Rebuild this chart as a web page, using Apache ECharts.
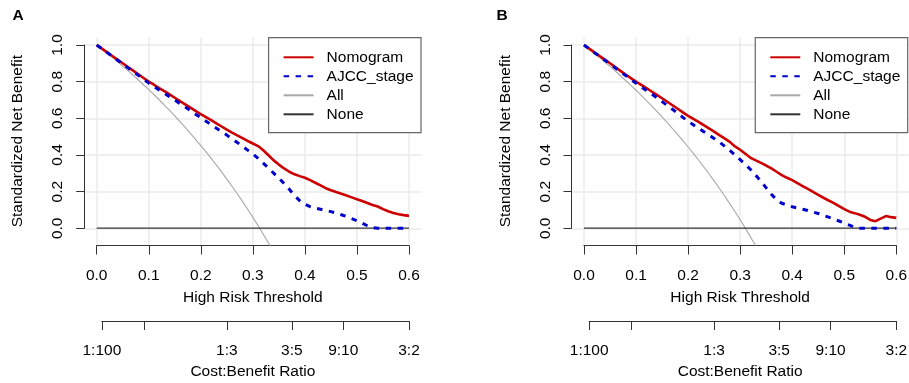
<!DOCTYPE html>
<html><head><meta charset="utf-8">
<script src="https://cdn.jsdelivr.net/npm/echarts@6/dist/echarts.min.js"></script>
<style>html,body{margin:0;padding:0;background:#fff}#c{width:909px;height:383px}</style>
</head><body><div id="c"></div>
<script>
// ---------- data ----------
const thresholds = [0.00,0.01,0.02,0.03,0.04,0.05,0.06,0.07,0.08,0.09,0.10,0.11,0.12,0.13,0.14,0.15,0.16,0.17,0.18,0.19,0.20,
  0.21,0.22,0.23,0.24,0.25,0.26,0.27,0.28,0.29,0.30,0.31,0.32,0.33,0.34,0.35,0.36,0.37,0.38,0.39,0.40,
  0.41,0.42,0.43,0.44,0.45,0.46,0.47,0.48,0.49,0.50,0.51,0.52,0.53,0.54,0.55,0.56,0.57,0.58,0.59,0.60];

const nomogramA = [1.000,0.980,0.960,0.940,0.920,0.900,0.880,0.860,0.840,0.820,0.800,0.783,0.765,0.748,0.730,0.712,0.694,0.676,0.658,0.640,0.622,
  0.606,0.590,0.572,0.555,0.538,0.522,0.507,0.492,0.476,0.462,0.448,0.425,0.398,0.370,0.347,0.326,0.308,0.294,0.284,0.275,
  0.262,0.248,0.233,0.218,0.207,0.197,0.188,0.178,0.168,0.158,0.148,0.137,0.126,0.118,0.104,0.092,0.083,0.076,0.071,0.067];
const ajccA = [1.000,0.980,0.959,0.938,0.917,0.896,0.875,0.854,0.834,0.813,0.792,0.773,0.755,0.737,0.718,0.699,0.680,0.661,0.642,0.622,0.603,
  0.584,0.565,0.546,0.527,0.508,0.488,0.468,0.447,0.426,0.405,0.381,0.355,0.328,0.300,0.273,0.243,0.212,0.178,0.150,0.130,
  0.117,0.109,0.103,0.097,0.090,0.082,0.073,0.064,0.052,0.040,0.027,0.013,0.003,0,0,0,0,0,0,0];
const allA = [1.000,0.978,0.955,0.932,0.909,0.884,0.860,0.835,0.809,0.783,0.756,0.729,0.701,0.672,0.643,0.613,0.582,0.550,0.518,0.485,0.451,
  0.416,0.381,0.344,0.307,0.268,0.229,0.188,0.146,0.103,0.059,0.014,-0.033,-0.081,-0.131];

const nomogramB = [1.000,0.980,0.960,0.940,0.920,0.900,0.879,0.859,0.839,0.819,0.800,0.782,0.764,0.746,0.728,0.709,0.690,0.671,0.652,0.632,0.613,
  0.596,0.580,0.562,0.545,0.527,0.508,0.490,0.471,0.446,0.428,0.406,0.384,0.370,0.356,0.342,0.326,0.308,0.290,0.275,0.262,
  0.246,0.230,0.214,0.198,0.182,0.166,0.151,0.137,0.120,0.104,0.090,0.082,0.073,0.062,0.045,0.038,0.052,0.066,0.060,0.056];
const ajccB = [1.000,0.979,0.958,0.938,0.917,0.896,0.875,0.854,0.833,0.812,0.791,0.771,0.752,0.732,0.712,0.691,0.670,0.649,0.628,0.605,0.584,
  0.564,0.545,0.527,0.508,0.490,0.470,0.448,0.425,0.400,0.374,0.348,0.320,0.289,0.255,0.220,0.185,0.155,0.136,0.126,0.117,
  0.110,0.103,0.096,0.088,0.080,0.070,0.060,0.050,0.039,0.027,0.016,0.005,0,0,0,0,0,0,0,0];
const allB = [1.000,0.977,0.955,0.931,0.907,0.883,0.858,0.832,0.806,0.780,0.753,0.725,0.696,0.667,0.638,0.607,0.576,0.544,0.511,0.478,0.443,
  0.408,0.372,0.335,0.297,0.258,0.218,0.177,0.134,0.091,0.046,0.000,-0.048,-0.097,-0.147];

const noneThresholds = [0, 0.6];
const noneValues = [0, 0];

const seriesNames = ['Nomogram', 'AJCC_stage', 'All', 'None'];
const panelLabels = ['A', 'B'];
const xTickLabels = ['0.0','0.1','0.2','0.3','0.4','0.5','0.6'];
const yTickLabels = ['0.0','0.2','0.4','0.6','0.8','1.0'];
const cbLabels = ['1:100','1:10','1:3','3:5','9:10','3:2'];
const cbShowLabel = [true, false, true, true, true, true];

// ---------- layout ----------
const FONT = '"Liberation Sans", Arial, Helvetica, sans-serif';
const FS = 15.5;
const AX = '#333';
const GRIDC = '#ebebeb';
const cbPos = cbLabels.map(s => { const [a, b] = s.split(':').map(Number); return a / (a + b); });
const cbMin = cbPos[0];

const panelsData = [
  { nom: nomogramA, ajcc: ajccA, all: allA, dx: 0, titleLeft: 12.5, legendRight: 488 },
  { nom: nomogramB, ajcc: ajccB, all: allB, dx: 487.3, titleLeft: 496.5, legendRight: 1.3 }
];

const P = { left: 84.2, top: 37.3, w: 337.3, h: 207.7, x0: 96.7, xw: 312.3, yTop: 45, yh: 183.3 };

const grid = [], xAxis = [], yAxis = [], series = [], legend = [], title = [];
const pair = (xs, ys) => xs.slice(0, ys.length).map((t, i) => [t, ys[i]]);
const txt = { fontFamily: FONT, fontSize: FS, color: '#000' };

panelsData.forEach((pd, p) => {
  const b = p * 4, dx = pd.dx;
  const cbLeft = P.x0 + dx + cbMin / 0.6 * P.xw;
  grid.push(
    { left: P.left + dx, top: P.top, width: P.w, height: P.h, containLabel: false, outerBoundsMode: 'none' },
    { left: P.x0 + dx, top: P.top, width: P.xw, height: P.h + 0.5, containLabel: false, outerBoundsMode: 'none' },
    { left: P.left + dx, top: P.yTop, width: P.w, height: P.yh, containLabel: false, outerBoundsMode: 'none' },
    { left: cbLeft, top: 300, width: P.x0 + dx + P.xw - cbLeft, height: 21, containLabel: false, outerBoundsMode: 'none' }
  );
  // data axes (only names shown)
  xAxis.push({ gridIndex: b, type: 'value', min: -0.024, max: 0.624,
    axisLine: { show: false }, axisTick: { show: false }, axisLabel: { show: false }, splitLine: { show: false },
    name: 'Cost:Benefit Ratio', nameLocation: 'middle', nameGap: 119, nameTextStyle: txt });
  yAxis.push({ gridIndex: b, type: 'value', min: -0.092, max: 1.042,
    axisLine: { show: false }, axisTick: { show: false }, axisLabel: { show: false }, splitLine: { show: false },
    name: 'Standardized Net Benefit', nameLocation: 'middle', nameGap: 58, nameTextStyle: txt });
  // threshold axis + vertical gridlines
  xAxis.push({ gridIndex: b + 1, type: 'value', min: 0, max: 0.6, interval: 0.1,
    axisLine: { show: true, lineStyle: { color: AX, width: 1 } },
    axisTick: { show: true, length: 9, lineStyle: { color: AX, width: 1 } },
    axisLabel: { ...txt, margin: 22, formatter: v => xTickLabels[Math.round(v * 10)] },
    splitLine: { show: true, lineStyle: { color: GRIDC, width: 1.5 } },
    name: 'High Risk Threshold', nameLocation: 'middle', nameGap: 44, nameTextStyle: txt });
  yAxis.push({ gridIndex: b + 1, type: 'value', min: 0, max: 1, show: false });
  // net benefit axis + horizontal gridlines
  xAxis.push({ gridIndex: b + 2, type: 'value', min: 0, max: 1, show: false });
  yAxis.push({ gridIndex: b + 2, type: 'value', min: 0, max: 1, interval: 0.2,
    axisLine: { show: true, lineStyle: { color: AX, width: 1 } },
    axisTick: { show: true, length: 8, lineStyle: { color: AX, width: 1 } },
    axisLabel: { ...txt, rotate: 90, margin: 18, formatter: v => yTickLabels[Math.round(v * 5)] },
    splitLine: { show: true, lineStyle: { color: GRIDC, width: 1.5 } } });
  // cost:benefit axis
  xAxis.push({ gridIndex: b + 3, type: 'value', min: cbMin, max: 0.6, position: 'bottom',
    axisLine: { show: true, lineStyle: { color: AX, width: 1 } },
    axisTick: { show: true, length: 9, customValues: cbPos, lineStyle: { color: AX, width: 1 } },
    axisLabel: { ...txt, margin: 22, customValues: cbPos.filter((v, i) => cbShowLabel[i]),
      formatter: v => { let k = 0, d = 1e9; cbPos.forEach((c, i) => { if (Math.abs(c - v) < d) { d = Math.abs(c - v); k = i; } }); return cbLabels[k]; } },
    splitLine: { show: false } });
  yAxis.push({ gridIndex: b + 3, type: 'value', min: 0, max: 1, show: false });

  const common = { type: 'line', xAxisIndex: b, yAxisIndex: b, symbol: 'none', showSymbol: false, animation: false, clip: true, silent: true };
  series.push(
    { ...common, name: 'All', data: pair(thresholds, pd.all), lineStyle: { color: '#a8a8a8', width: 1.1 }, itemStyle: { color: '#a8a8a8' }, z: 2 },
    { ...common, name: 'None', data: pair(noneThresholds, noneValues), lineStyle: { color: '#333', width: 1.1 }, itemStyle: { color: '#333' }, z: 2 },
    { ...common, name: 'Nomogram', data: pair(thresholds, pd.nom), lineStyle: { color: '#cc0000', width: 2.6 }, itemStyle: { color: '#cc0000' }, z: 3 },
    { ...common, name: 'AJCC_stage', data: pair(thresholds, pd.ajcc), lineStyle: { color: '#0000cc', width: 3, type: [5.5, 6.5], cap: 'butt' }, itemStyle: { color: '#0000cc' }, z: 4 }
  );
  legend.push({ orient: 'vertical', right: pd.legendRight, top: 37.7, itemWidth: 30, itemHeight: 14, itemGap: 3,
    padding: [11.6, 7.4, 10.4, 14], borderColor: '#666', borderWidth: 1.2, backgroundColor: '#fff',
    itemStyle: { opacity: 0 },
    textStyle: { ...txt, lineHeight: 16, padding: [0, 0, 0, 8] }, data: seriesNames, selectedMode: false });
  title.push({ text: panelLabels[p], left: pd.titleLeft, top: 8, padding: 0,
    textStyle: { fontFamily: FONT, fontSize: 15.5, fontWeight: 'bold', color: '#000' } });
});

const chart = echarts.init(document.getElementById('c'), null, { renderer: 'canvas' });
chart.setOption({ animation: false, backgroundColor: '#fff', title, legend, grid, xAxis, yAxis, series });
</script>
</body></html>
